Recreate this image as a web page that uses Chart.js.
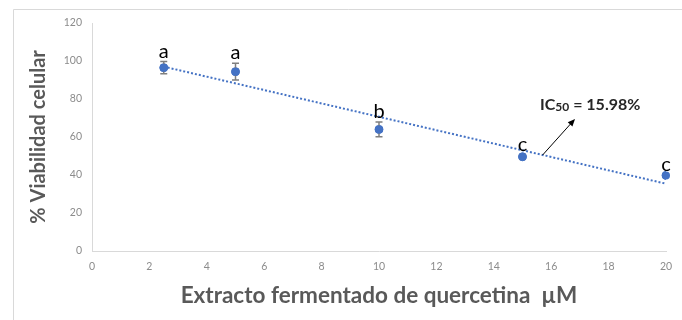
<!DOCTYPE html>
<html>
<head>
<meta charset="utf-8">
<script src="https://cdn.jsdelivr.net/npm/chart.js@4.4.1/dist/chart.umd.min.js"></script>
<style>
  html, body { margin: 0; padding: 0; background: #ffffff; }
  #wrap { position: relative; width: 682px; height: 320px; }
</style>
</head>
<body>
<div id="wrap"><canvas id="chart" width="682" height="320"></canvas></div>
<script>
// Concentration of fermented quercetin extract (µM)
const concentrations = [2.5, 5, 10, 15, 20];
// Mean cell viability (%)
const viability = [96.5, 94.4, 64.0, 49.6, 39.8];
// Standard error of each mean (%)
const errors = [3.2, 4.4, 3.9, 1.0, 0.0];
// Statistical group letters
const groups = ['a', 'a', 'b', 'c', 'c'];
// Axis tick values
const xTicks = [0, 2, 4, 6, 8, 10, 12, 14, 16, 18, 20];
const yTicks = [0, 20, 40, 60, 80, 100, 120];
// IC50 annotation
const ic50Text = { main: 'IC', sub: '50', rest: ' = 15.98%' };
const ic50Arrow = { from: [15.7, 50.5], to: [16.83, 69.5] };

const BLUE = '#4472c4';
const FONT = 'Lato, "Liberation Sans", sans-serif';

// Least-squares linear trend through the measured points
function linearFit(xs, ys) {
  const n = xs.length;
  const mx = xs.reduce((s, v) => s + v, 0) / n;
  const my = ys.reduce((s, v) => s + v, 0) / n;
  let sxy = 0, sxx = 0;
  for (let i = 0; i < n; i++) {
    sxy += (xs[i] - mx) * (ys[i] - my);
    sxx += (xs[i] - mx) * (xs[i] - mx);
  }
  const slope = sxy / sxx;
  return { slope, intercept: my - slope * mx };
}
const fit = linearFit(concentrations, viability);
const xFirst = concentrations[0];
const xLast = concentrations[concentrations.length - 1];
const trendPoints = [
  { x: xFirst, y: fit.intercept + fit.slope * xFirst },
  { x: xLast, y: fit.intercept + fit.slope * xLast }
];

const pointData = concentrations.map((x, i) => ({ x, y: viability[i] }));

// Outer frame of the chart
const framePlugin = {
  id: 'frame',
  beforeDraw(chart) {
    const ctx = chart.ctx;
    ctx.save();
    ctx.fillStyle = '#ffffff';
    ctx.fillRect(0, 0, chart.width, chart.height);
    ctx.strokeStyle = '#d9d9d9';
    ctx.lineWidth = 1;
    ctx.beginPath();
    ctx.moveTo(13.5, chart.height + 1);
    ctx.lineTo(13.5, 9.5);
    ctx.lineTo(chart.width + 1, 9.5);
    ctx.stroke();
    ctx.restore();
  }
};

// Error bars, group letters and the IC50 callout
const extrasPlugin = {
  id: 'extras',
  afterDatasetsDraw(chart) {
    const ctx = chart.ctx;
    const xs = chart.scales.x, ys = chart.scales.y;
    ctx.save();
    // error bars
    ctx.strokeStyle = '#7f7f7f';
    ctx.lineWidth = 1.5;
    concentrations.forEach((c, i) => {
      if (!errors[i]) return;
      const px = xs.getPixelForValue(c);
      const top = ys.getPixelForValue(viability[i] + errors[i]);
      const bot = ys.getPixelForValue(viability[i] - errors[i]);
      ctx.beginPath();
      ctx.moveTo(px, top); ctx.lineTo(px, bot);
      ctx.moveTo(px - 3.5, top); ctx.lineTo(px + 3.5, top);
      ctx.moveTo(px - 3.5, bot); ctx.lineTo(px + 3.5, bot);
      ctx.stroke();
    });
    // redraw markers above the bars
    ctx.fillStyle = BLUE;
    concentrations.forEach((c, i) => {
      ctx.beginPath();
      ctx.arc(xs.getPixelForValue(c), ys.getPixelForValue(viability[i]), 4, 0, Math.PI * 2);
      ctx.fill();
    });
    // group letters
    ctx.fillStyle = '#000000';
    ctx.font = '20px ' + FONT;
    ctx.textAlign = 'center';
    ctx.textBaseline = 'alphabetic';
    concentrations.forEach((c, i) => {
      const px = xs.getPixelForValue(c);
      const py = ys.getPixelForValue(viability[i] + errors[i]) - 4;
      ctx.fillText(groups[i], px, py);
    });
    // IC50 arrow
    const ax0 = xs.getPixelForValue(ic50Arrow.from[0]);
    const ay0 = ys.getPixelForValue(ic50Arrow.from[1]);
    const ax1 = xs.getPixelForValue(ic50Arrow.to[0]);
    const ay1 = ys.getPixelForValue(ic50Arrow.to[1]);
    const ang = Math.atan2(ay1 - ay0, ax1 - ax0);
    const head = 8;
    ctx.strokeStyle = '#000000';
    ctx.lineWidth = 1;
    ctx.beginPath();
    ctx.moveTo(ax0, ay0);
    ctx.lineTo(ax1 - Math.cos(ang) * head * 0.8, ay1 - Math.sin(ang) * head * 0.8);
    ctx.stroke();
    ctx.fillStyle = '#000000';
    ctx.beginPath();
    ctx.moveTo(ax1, ay1);
    ctx.lineTo(ax1 - head * Math.cos(ang - 0.4), ay1 - head * Math.sin(ang - 0.4));
    ctx.lineTo(ax1 - head * Math.cos(ang + 0.4), ay1 - head * Math.sin(ang + 0.4));
    ctx.closePath();
    ctx.fill();
    // IC50 label
    let tx = ax1 - 35;
    const ty = ay1 - 9;
    ctx.textAlign = 'left';
    ctx.fillStyle = '#262626';
    ctx.font = 'bold 16px ' + FONT;
    ctx.fillText(ic50Text.main, tx, ty);
    tx += ctx.measureText(ic50Text.main).width;
    ctx.font = 'bold 12px ' + FONT;
    ctx.fillText(ic50Text.sub, tx, ty + 1);
    tx += ctx.measureText(ic50Text.sub).width;
    ctx.font = 'bold 16px ' + FONT;
    ctx.fillText(ic50Text.rest, tx, ty);
    ctx.restore();
  }
};

new Chart(document.getElementById('chart'), {
  type: 'scatter',
  data: {
    datasets: [
      {
        label: 'Tendencia',
        data: trendPoints,
        showLine: true,
        borderColor: BLUE,
        borderWidth: 2,
        borderDash: [2, 2],
        pointRadius: 0,
        fill: false,
        order: 2
      },
      {
        label: 'Viabilidad',
        data: pointData,
        backgroundColor: BLUE,
        borderColor: BLUE,
        pointRadius: 4,
        showLine: false,
        order: 1
      }
    ]
  },
  options: {
    responsive: false,
    animation: false,
    layout: { padding: { top: 23, right: 16, left: 0, bottom: 0 } },
    plugins: {
      legend: { display: false },
      tooltip: { enabled: false }
    },
    scales: {
      x: {
        type: 'linear',
        min: 0,
        max: 20,
        afterBuildTicks(scale) { scale.ticks = xTicks.map(v => ({ value: v })); },
        afterFit(scale) { scale.height = 69; },
        grid: { display: false, drawTicks: false },
        border: { display: true, color: '#d9d9d9', width: 1 },
        ticks: { color: '#8c8c8c', font: { family: FONT, size: 10.5 }, padding: 9, maxRotation: 0 },
        title: {
          display: true,
          text: 'Extracto fermentado de quercetina  µM',
          color: '#595959',
          font: { family: FONT, size: 22.5, weight: 'bold' },
          padding: { top: 0, bottom: 11 }
        }
      },
      y: {
        type: 'linear',
        min: 0,
        max: 120,
        afterBuildTicks(scale) { scale.ticks = yTicks.map(v => ({ value: v })); },
        afterFit(scale) { scale.width = 92; },
        grid: { display: false, drawTicks: false },
        border: { display: true, color: '#d9d9d9', width: 1 },
        ticks: { color: '#8c8c8c', font: { family: FONT, size: 10.5 }, padding: 10 },
        title: {
          display: true,
          text: '% Viabilidad celular',
          color: '#595959',
          font: { family: FONT, size: 20, weight: 'bold' },
          padding: { top: 27, bottom: 0 }
        }
      }
    }
  },
  plugins: [framePlugin, extrasPlugin]
});
</script>
</body>
</html>
